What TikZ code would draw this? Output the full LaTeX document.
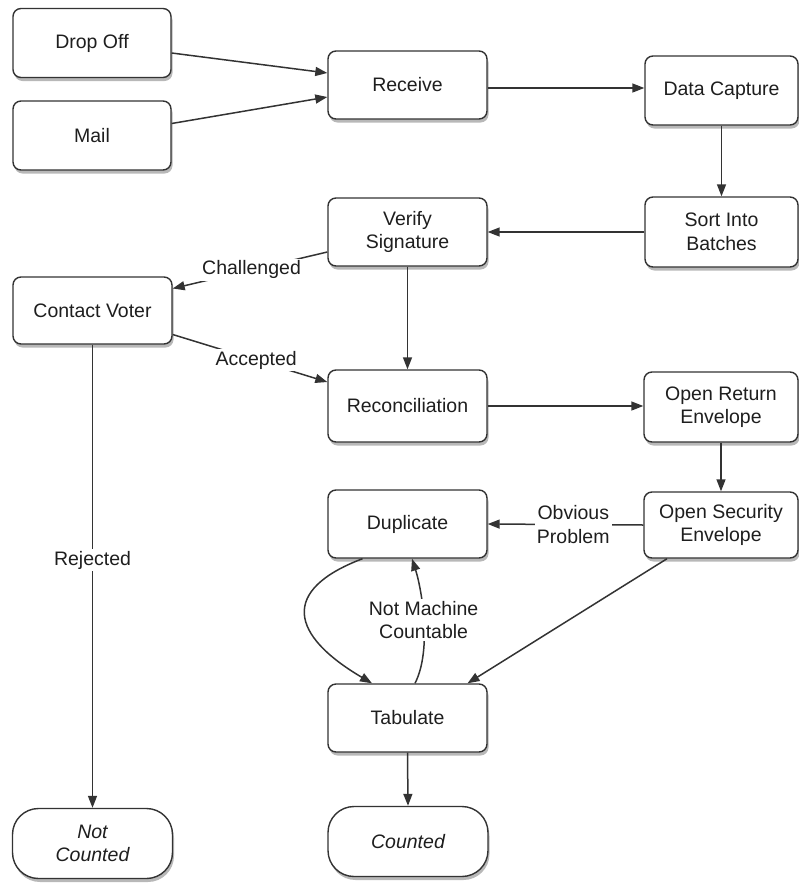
\documentclass[tikz,border=0pt]{standalone}
\usepackage{fontspec}
\setmainfont{Liberation Sans}
\usetikzlibrary{arrows.meta,shadows}
\definecolor{edgec}{HTML}{333333}
\definecolor{txtc}{HTML}{1E1E1E}
\tikzset{
  box/.style={draw=edgec, line width=1.4pt, fill=white, rounded corners=8pt,
    minimum width=158pt, minimum height=69pt, inner sep=0pt, align=center,
    text=txtc, font=\fontsize{19.5pt}{23.5pt}\selectfont,
    drop shadow={shadow xshift=1.5pt, shadow yshift=-3.5pt, fill=black, opacity=0.28}},
  rbox/.style={box, minimum width=153pt},
  term/.style={box, rounded corners=26pt, minimum width=160pt, minimum height=70pt,
    font=\fontsize{19.5pt}{23.5pt}\selectfont\itshape},
  arr/.style={draw=edgec, line width=1.5pt, -{Triangle[length=12pt,width=9pt]}},
  lbl/.style={fill=white, text=txtc, inner sep=2pt, align=center,
    font=\fontsize{19.5pt}{23.5pt}\selectfont}
}
\begin{document}
\begin{tikzpicture}[x=1pt,y=-1pt]
\useasboundingbox (0,0) rectangle (799,884);
\node[box] (drop) at (92,43) {Drop Off};
\node[box] (mail) at (92,135.5) {Mail};
\node[box, minimum width=159pt, minimum height=68pt] (recv) at (407.5,85) {Receive};
\node[rbox] (datacap) at (721.5,90.5) {Data Capture};
\node[rbox, minimum height=70pt] (sort) at (721.5,232) {Sort Into\\Batches};
\node[box, minimum width=159pt, minimum height=68pt] (verify) at (407.5,232) {Verify\\Signature};
\node[box, minimum width=159pt, minimum height=67pt] (contact) at (92.5,310.5) {Contact Voter};
\node[box, minimum width=159pt, minimum height=72pt] (recon) at (407.5,406) {Reconciliation};
\node[rbox, minimum width=154pt, minimum height=70pt] (openret) at (721,407) {Open Return\\Envelope};
\node[rbox, minimum width=154pt, minimum height=66pt] (opensec) at (721,525) {Open Security\\Envelope};
\node[box, minimum width=159pt, minimum height=68pt] (dup) at (407.5,524) {Duplicate};
\node[box, minimum width=159pt, minimum height=68pt] (tab) at (407.5,718) {Tabulate};
\node[term] (notc) at (92.5,843.5) {Not\\Counted};
\node[term] (counted) at (408,841.5) {Counted};

\draw[arr] ([yshift=-10pt]drop.east) -- ([yshift=12pt]recv.west);
\draw[arr] ([yshift=12pt]mail.east) -- ([yshift=-12pt]recv.west);
\draw[arr] ([yshift=-3pt]recv.east) -- ([yshift=-3pt]recv.east -| datacap.west);
\draw[arr] (datacap.south) -- (sort.north);
\draw[arr] (sort.west) -- (verify.east);
\draw[arr] ([yshift=-20pt]verify.west) -- node[lbl, pos=0.49] {Challenged} ([yshift=22pt]contact.east);
\draw[arr] ([yshift=-24pt]contact.east) -- node[lbl, pos=0.54] {Accepted} ([yshift=24pt]recon.west);
\draw[arr] (verify.south) -- (recon.north);
\draw[arr] (contact.south) -- node[lbl, pos=0.465] {Rejected} (notc.north);
\draw[arr] (recon.east) -- (recon.east -| openret.west);
\draw[arr] (openret.south) -- (opensec.north);
\draw[arr] (opensec.west) -- node[lbl, pos=0.45] {Obvious\\Problem} (dup.east);
\draw[arr] ([xshift=-54pt]opensec.south) -- ([xshift=60pt]tab.north);
\draw[arr] ([xshift=-45pt]dup.south) .. controls (280,590) and (290,635) .. ([xshift=-35.5pt]tab.north);
\draw[arr] ([xshift=7.5pt]tab.north) .. controls (432,650) and (422,590) .. node[lbl, pos=0.5] {Not Machine\\Countable} ([xshift=4.5pt]dup.south);
\draw[arr] (tab.south) -- (counted.north);
\end{tikzpicture}
\end{document}
